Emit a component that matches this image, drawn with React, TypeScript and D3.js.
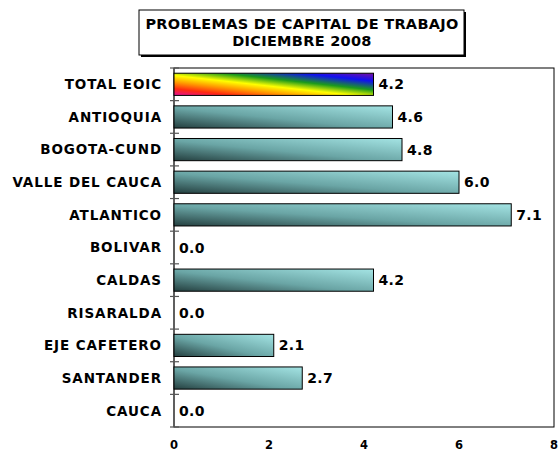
import * as React from "react";
import * as d3 from "d3";

const categories = [
  "TOTAL EOIC",
  "ANTIOQUIA",
  "BOGOTA-CUND",
  "VALLE DEL CAUCA",
  "ATLANTICO",
  "BOLIVAR",
  "CALDAS",
  "RISARALDA",
  "EJE CAFETERO",
  "SANTANDER",
  "CAUCA",
];
const values = [4.2, 4.6, 4.8, 6.0, 7.1, 0.0, 4.2, 0.0, 2.1, 2.7, 0.0];
const xTicks = [0, 2, 4, 6, 8];
const titleLines = ["PROBLEMAS DE CAPITAL DE TRABAJO", "DICIEMBRE 2008"];

const W = 559;
const H = 453;
const margin = { top: 68, right: 5, bottom: 26, left: 174 };
const font = "'DejaVu Sans', Verdana, sans-serif";

export default function App() {
  const x = d3.scaleLinear().domain([0, 8]).range([margin.left, W - margin.right]);
  const y = d3
    .scaleBand()
    .domain(categories)
    .range([margin.top, H - margin.bottom])
    .paddingInner(0.32)
    .paddingOuter(0.16);
  const step = y.step();
  const top = margin.top;
  const bottom = H - margin.bottom;

  return (
    <svg
      width={W}
      height={H}
      style={{ position: "absolute", left: 0, top: 0, background: "#fff" }}
      fontFamily={font}
    >
      <defs>
        <linearGradient id="teal" x1="0" y1="1" x2="1" y2="0">
          <stop offset="0" stopColor="#243f3f" />
          <stop offset="0.45" stopColor="#6aa5a5" />
          <stop offset="1" stopColor="#a4e4e4" />
        </linearGradient>
        <linearGradient id="rainbow" x1="0" y1="1" x2="1" y2="0">
          <stop offset="0" stopColor="#e0109a" />
          <stop offset="0.15" stopColor="#ff2a10" />
          <stop offset="0.3" stopColor="#ff9a00" />
          <stop offset="0.45" stopColor="#ffff00" />
          <stop offset="0.62" stopColor="#1c9a1c" />
          <stop offset="0.82" stopColor="#1010f0" />
          <stop offset="1" stopColor="#7a10a0" />
        </linearGradient>
      </defs>

      {/* title box */}
      <rect x={141} y={12} width={325} height={45} fill="#000" />
      <rect x={139} y={10} width={325} height={45} fill="#fff" stroke="#000" strokeWidth={1} />
      {titleLines.map((t, i) => (
        <text
          key={t}
          x={302}
          y={29 + i * 17}
          textAnchor="middle"
          fontSize={14.5}
          fontWeight="bold"
          letterSpacing={0.3}
        >
          {t}
        </text>
      ))}

      {/* plot frame */}
      <rect
        x={margin.left}
        y={top}
        width={W - margin.right - margin.left}
        height={bottom - top}
        fill="none"
        stroke="#000"
        strokeWidth={1}
      />
      <line x1={margin.left} x2={margin.left} y1={top} y2={bottom} stroke="#555" strokeWidth={1.5} />

      {/* y ticks at band boundaries */}
      {d3.range(categories.length + 1).map((i) => {
        const ty = top + i * step;
        return (
          <line key={i} x1={margin.left - 4} x2={margin.left + 5} y1={ty} y2={ty} stroke="#555" strokeWidth={1.2} />
        );
      })}

      {/* bars */}
      {categories.map((c, i) => {
        const v = values[i];
        const by = y(c)!;
        const bw = x(v) - x(0);
        return (
          <g key={c}>
            {v > 0 && (
              <rect
                x={x(0)}
                y={by}
                width={bw}
                height={y.bandwidth()}
                fill={i === 0 ? "url(#rainbow)" : "url(#teal)"}
                stroke="#000"
                strokeWidth={1}
              />
            )}
            <text
              x={x(v) + 5}
              y={by + y.bandwidth() / 2}
              dy="0.36em"
              fontSize={14}
              fontWeight="bold"
              letterSpacing={0.3}
            >
              {v.toFixed(1)}
            </text>
            <text
              x={margin.left - 12}
              y={by + y.bandwidth() / 2}
              dy="0.36em"
              textAnchor="end"
              fontSize={13.5}
              fontWeight="bold"
              letterSpacing={0.9}
            >
              {c}
            </text>
          </g>
        );
      })}

      {/* x tick labels */}
      {xTicks.map((t) => (
        <text key={t} x={x(t)} y={bottom + 22} textAnchor="middle" fontSize={11.5} fontWeight="bold">
          {t}
        </text>
      ))}
    </svg>
  );
}
